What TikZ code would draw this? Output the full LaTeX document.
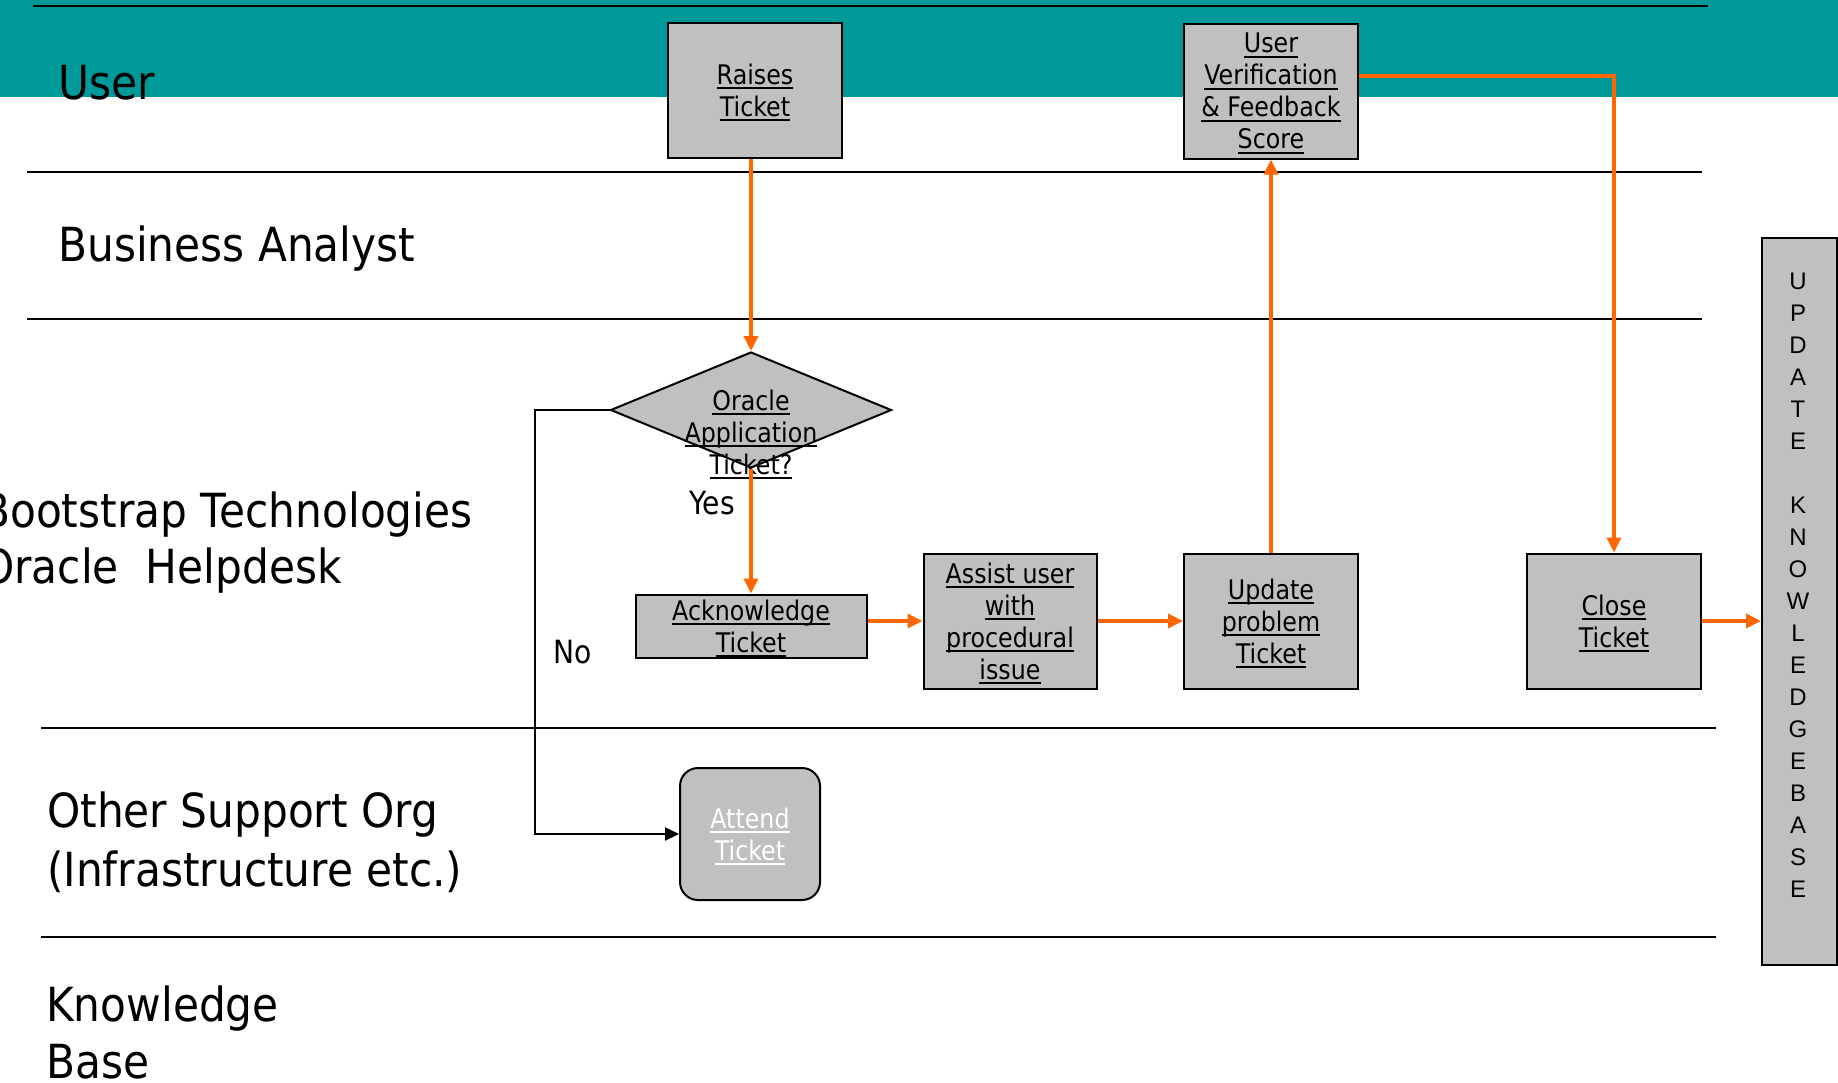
\documentclass[tikz,border=0pt]{standalone}
\usepackage{fontspec}
\setmainfont{DejaVu Sans}[FakeStretch=0.88]
\newfontfamily\lanefont{DejaVu Sans}[FakeStretch=0.9]
\newfontfamily\ukbfont{Liberation Sans}
\usetikzlibrary{arrows.meta,shapes.geometric,calc}
\definecolor{teal0}{RGB}{0,153,153}
\definecolor{boxgray}{RGB}{192,192,192}
\definecolor{flow}{RGB}{255,102,0}
\newcommand\uln[1]{\setbox0\hbox{#1}\rlap{\smash{\rule[-5pt]{\wd0}{2pt}}}\box0}
\begin{document}
\begin{tikzpicture}[x=1pt,y=-1pt,
  lane/.style={draw=black,line width=2.5pt},
  lanelabel/.style={anchor=base west,inner sep=0,font=\lanefont\fontsize{47}{56}\selectfont},
  answer/.style={anchor=base west,inner sep=0,font=\fontsize{32}{38}\selectfont},
  procbox/.style={draw=black,line width=2pt,fill=boxgray,minimum width=174pt,minimum height=135pt,inner sep=0,align=center,font=\fontsize{27}{32}\selectfont},
  flowarrow/.style={draw=flow,line width=3.5pt,-{Triangle[length=15pt,width=14pt]}},
  blackarrow/.style={draw=black,line width=2pt,-{Triangle[length=14pt,width=13pt]}}]
\useasboundingbox (0,0) rectangle (1838,1082);
\fill[teal0] (0,0) rectangle (1838,97);
% lane separators
\draw[lane] (33,6) -- (1708,6);
\draw[lane] (27,172) -- (1702,172);
\draw[lane] (27,319) -- (1702,319);
\draw[lane] (41,728) -- (1716,728);
\draw[lane] (41,937) -- (1716,937);
% lane labels
\node[lanelabel] (lUser) at (58,99) {User};
\node[lanelabel] (lBA) at (58,261) {Business Analyst};
\node[lanelabel] (lBT1) at (-19,527) {Bootstrap Technologies};
\node[lanelabel] (lBT2) at (-19,583) {Oracle\hspace{27pt}Helpdesk};
\node[lanelabel] (lOS1) at (47,827) {Other Support Org};
\node[lanelabel] (lOS2) at (47,886) {(Infrastructure etc.)};
\node[lanelabel] (lKB1) at (46,1021) {Knowledge};
\node[lanelabel] (lKB2) at (46,1078) {Base};
% process boxes
\node[procbox] (raise) at (755,90) {\uln{Raises}\\\uln{Ticket}};
\node[procbox] (userver) at (1271,91) {\uln{User}\\\uln{Verification}\\\uln{\& Feedback}\\\uln{Score}};
\node[diamond,draw=black,line width=2pt,fill=boxgray,minimum width=281pt,minimum height=116pt,inner sep=0] (dia) at (751,410) {};
\node[inner sep=0,align=center,font=\fontsize{27}{32}\selectfont] (diatext) at (751,432) {\uln{Oracle}\\\uln{Application}\\\uln{Ticket?}};
\node[procbox,minimum width=231pt,minimum height=63pt] (ack) at (751,626) {\uln{Acknowledge}\\\uln{Ticket}};
\node[procbox,minimum width=173pt] (assist) at (1010,621) {\uln{Assist user}\\\uln{with}\\\uln{procedural}\\\uln{issue}};
\node[procbox] (update) at (1271,621) {\uln{Update}\\\uln{problem}\\\uln{Ticket}};
\node[procbox] (close) at (1614,621) {\uln{Close}\\\uln{Ticket}};
\node[procbox,rounded corners=18pt,minimum width=140pt,minimum height=132pt,text=white] (attend) at (750,834) {\uln{Attend}\\\uln{Ticket}};
\node[draw=black,line width=2pt,fill=boxgray,minimum width=75pt,minimum height=727pt,inner sep=0] (ukb) at (1799.5,601.5) {};
\node[inner sep=0,align=center,font=\ukbfont\fontsize{24}{32}\selectfont] (ukbtext) at (1798,585) {U\\P\\D\\A\\T\\E\\\mbox{}\\K\\N\\O\\W\\L\\E\\D\\G\\E\\B\\A\\S\\E};
% answers
\node[answer] (yes) at (689,514) {Yes};
\node[answer] (no) at (553,663) {No};
% connectors
\draw[flowarrow] (raise.south -| dia.north) -- (dia.north);
\draw[flowarrow] (dia.south) -- (ack.north);
\draw[flowarrow] (ack.east |- assist.west) -- (assist.west);
\draw[flowarrow] (assist.east) -- (update.west);
\draw[flowarrow] (update.north) -- (update.north |- userver.south);
\draw[flowarrow] ([yshift=15pt]userver.east) -| (close.north);
\draw[flowarrow] (close.east) -- (close.east -| ukb.west);
\draw[blackarrow] (dia.west) -- ++(-75,0) |- (attend.west);
\end{tikzpicture}
\end{document}
